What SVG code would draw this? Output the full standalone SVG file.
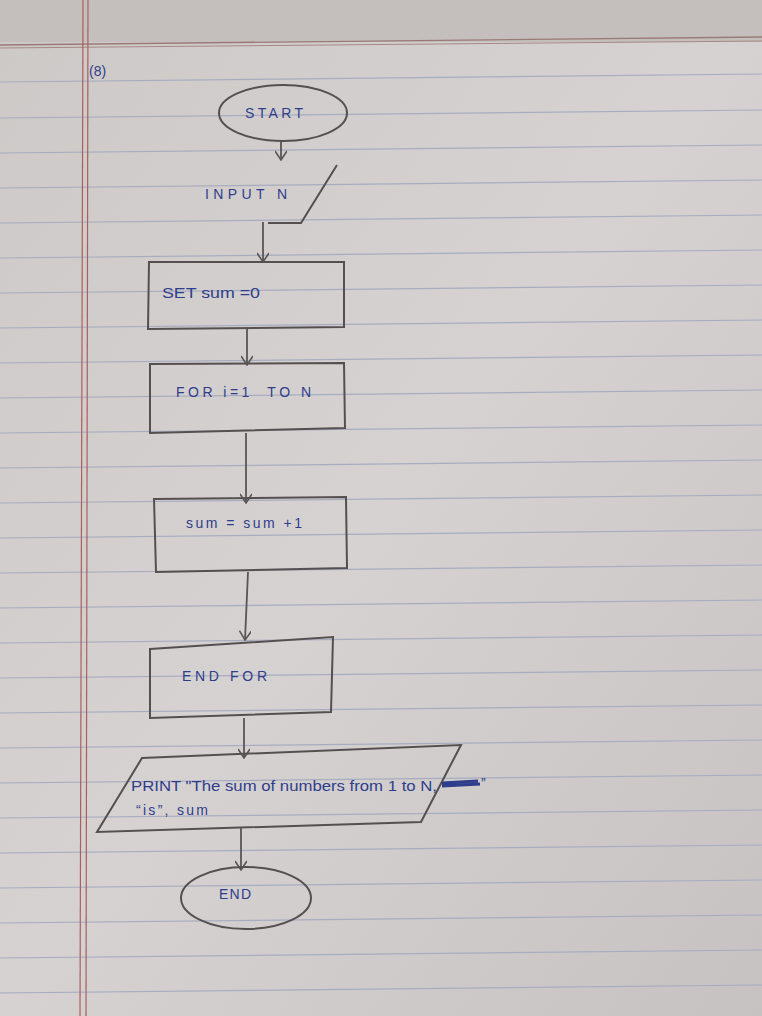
<svg xmlns="http://www.w3.org/2000/svg" width="762" height="1016" viewBox="0 0 762 1016">
<defs>
<marker id="ah" viewBox="0 0 12 12" refX="11" refY="6" markerWidth="12" markerHeight="12" markerUnits="userSpaceOnUse" orient="auto">
<path d="M2,0 L11,6 L2,12" fill="none" stroke="#5a5656" stroke-width="1.6"/>
</marker>
<linearGradient id="paper" x1="0" y1="0" x2="1" y2="1">
<stop offset="0" stop-color="#cdc9c7"/>
<stop offset="0.5" stop-color="#d6d2d1"/>
<stop offset="1" stop-color="#c6c2c2"/>
</linearGradient>
</defs>
<style>
.rule{stroke:#a8acc0;stroke-width:1.2;fill:none}
.shape{fill:none;stroke:#555050;stroke-width:2}
.conn{stroke:#5a5656;stroke-width:1.8;fill:none;marker-end:url(#ah)}
.ink{font-family:"Liberation Sans",Arial,sans-serif;fill:#2e3d8c;font-size:14px}
</style>
<rect x="0" y="0" width="762" height="1016" fill="url(#paper)"/>
<rect x="0" y="0" width="762" height="42" fill="#c4bfbd"/>
<g id="paper-lines">
<path class="rule" d="M0,82 L762,74"/>
<path class="rule" d="M0,118 L762,110"/>
<path class="rule" d="M0,153 L762,145"/>
<path class="rule" d="M0,188 L762,180"/>
<path class="rule" d="M0,223 L762,215"/>
<path class="rule" d="M0,258 L762,250"/>
<path class="rule" d="M0,293 L762,285"/>
<path class="rule" d="M0,328 L762,320"/>
<path class="rule" d="M0,363 L762,355"/>
<path class="rule" d="M0,398 L762,390"/>
<path class="rule" d="M0,433 L762,425"/>
<path class="rule" d="M0,468 L762,460"/>
<path class="rule" d="M0,503 L762,495"/>
<path class="rule" d="M0,538 L762,530"/>
<path class="rule" d="M0,573 L762,565"/>
<path class="rule" d="M0,608 L762,600"/>
<path class="rule" d="M0,643 L762,635"/>
<path class="rule" d="M0,678 L762,670"/>
<path class="rule" d="M0,713 L762,705"/>
<path class="rule" d="M0,748 L762,740"/>
<path class="rule" d="M0,783 L762,775"/>
<path class="rule" d="M0,818 L762,810"/>
<path class="rule" d="M0,853 L762,845"/>
<path class="rule" d="M0,888 L762,880"/>
<path class="rule" d="M0,923 L762,915"/>
<path class="rule" d="M0,958 L762,950"/>
<path class="rule" d="M0,993 L762,985"/>
<path d="M0,45 L762,37" stroke="#9a7a78" stroke-width="1.4" fill="none"/>
<path d="M0,48 L762,41" stroke="#a58886" stroke-width="1" fill="none"/>
<path d="M83,0 L80,1016" stroke="#a8605e" stroke-width="1.2" fill="none"/>
<path d="M88,0 L86,1016" stroke="#a8605e" stroke-width="1.2" fill="none"/>
</g>
<text class="ink" x="89" y="76" font-size="14">(8)</text>
<g id="connectors">
<path class="conn" d="M281,140 L281,160"/>
<path class="conn" d="M263,222 L263,262"/>
<path class="conn" d="M247,328 L247,365"/>
<path class="conn" d="M246,433 L246,503"/>
<path class="conn" d="M248,572 L245,640"/>
<path class="conn" d="M244,718 L244,758"/>
<path class="conn" d="M241,828 L241,870"/>
</g>
<g id="start">
<ellipse class="shape" cx="283" cy="113" rx="64" ry="28"/>
<text class="ink" x="245" y="118" textLength="58" lengthAdjust="spacing">START</text>
</g>
<g id="input">
<path class="shape" d="M337,165 L301,223 L268,223"/>
<text class="ink" x="205" y="199" font-size="12" textLength="82" lengthAdjust="spacing">INPUT N</text>
</g>
<g id="set-sum">
<path class="shape" d="M149,262 L344,262 L344,327 L148,329 Z"/>
<text class="ink" x="162" y="298" textLength="98" lengthAdjust="spacingAndGlyphs">SET sum =0</text>
</g>
<g id="for-loop">
<path class="shape" d="M150,364 L344,363 L345,428 L150,433 Z"/>
<text class="ink" x="176" y="397" textLength="135" lengthAdjust="spacing" xml:space="preserve">FOR i=1  TO N</text>
</g>
<g id="sum-update">
<path class="shape" d="M154,499 L346,497 L347,568 L156,572 Z"/>
<text class="ink" x="186" y="528" textLength="116" lengthAdjust="spacing">sum = sum +1</text>
</g>
<g id="end-for">
<path class="shape" d="M150,649 L333,637 L331,712 L150,718 Z"/>
<text class="ink" x="182" y="681" textLength="85" lengthAdjust="spacing">END FOR</text>
</g>
<g id="print">
<path class="shape" d="M142,758 L461,745 L421,822 L97,832 Z"/>
<text class="ink" x="131" y="791" textLength="306" lengthAdjust="spacingAndGlyphs">PRINT "The sum of numbers from 1 to N,</text>
<path d="M442,783 L478,781 M442,786 L480,784" stroke="#2e3d8c" stroke-width="3" fill="none"/>
<text class="ink" x="481" y="788" font-size="11">”</text>
<text class="ink" x="136" y="815" font-size="13" textLength="72" lengthAdjust="spacing">“is”, sum</text>
</g>
<g id="end">
<ellipse class="shape" cx="246" cy="898" rx="65" ry="31"/>
<text class="ink" x="219" y="899" textLength="32" lengthAdjust="spacing">END</text>
</g>
</svg>
